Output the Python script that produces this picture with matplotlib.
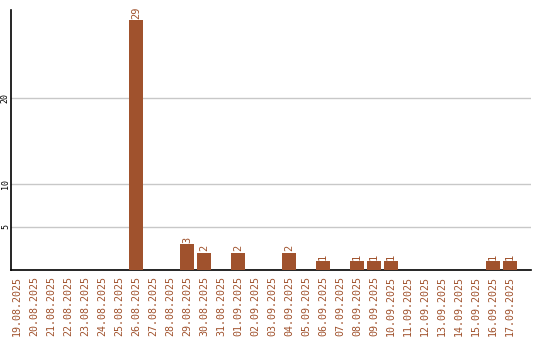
import matplotlib
matplotlib.use('Agg')
import matplotlib.pyplot as plt

dates = ['19.08.2025', '20.08.2025', '21.08.2025', '22.08.2025', '23.08.2025',
         '24.08.2025', '25.08.2025', '26.08.2025', '27.08.2025', '28.08.2025',
         '29.08.2025', '30.08.2025', '31.08.2025', '01.09.2025', '02.09.2025',
         '03.09.2025', '04.09.2025', '05.09.2025', '06.09.2025', '07.09.2025',
         '08.09.2025', '09.09.2025', '10.09.2025', '11.09.2025', '12.09.2025',
         '13.09.2025', '14.09.2025', '15.09.2025', '16.09.2025', '17.09.2025']
counts = [0, 0, 0, 0, 0, 0, 0, 29, 0, 0,
          3, 2, 0, 2, 0, 0, 2, 0, 1, 0,
          1, 1, 1, 0, 0, 0, 0, 0, 1, 1]
yticks = [5, 10, 20]

color = '#a0522d'

fig = plt.figure(figsize=(5.4, 3.4), dpi=100)
ax = fig.add_axes([0.0204, 0.2059, 0.9629, 0.7647])

x = list(range(len(dates)))
ax.bar(x, counts, width=0.82, color=color, zorder=3)

# value labels above the bars
for i, v in zip(x, counts):
    if v > 0:
        ax.annotate(str(v), (i, v), xytext=(0, 1), textcoords='offset points',
                    rotation=90, ha='center', va='bottom', color=color,
                    fontsize=7.5, family='DejaVu Sans Mono')

ax.set_xlim(-0.35, 30.24)
ax.set_ylim(0, 30.2)

ax.set_xticks(x)
ax.set_xticklabels(dates, rotation=90, color=color, fontsize=7.2,
                   family='DejaVu Sans Mono')
ax.set_yticks(yticks)
ax.set_yticklabels([str(t) for t in yticks], rotation=90, fontsize=6,
                   family='DejaVu Sans Mono', va='center')
ax.tick_params(axis='x', length=0, pad=4)
ax.tick_params(axis='y', length=0, pad=0.8)

ax.grid(axis='y', color='#c8c8c8', linewidth=1, zorder=0)
ax.spines['top'].set_visible(False)
ax.spines['right'].set_visible(False)
ax.spines['left'].set_linewidth(1.2)
ax.spines['bottom'].set_linewidth(1.2)

fig.savefig('out.png', dpi=100)
